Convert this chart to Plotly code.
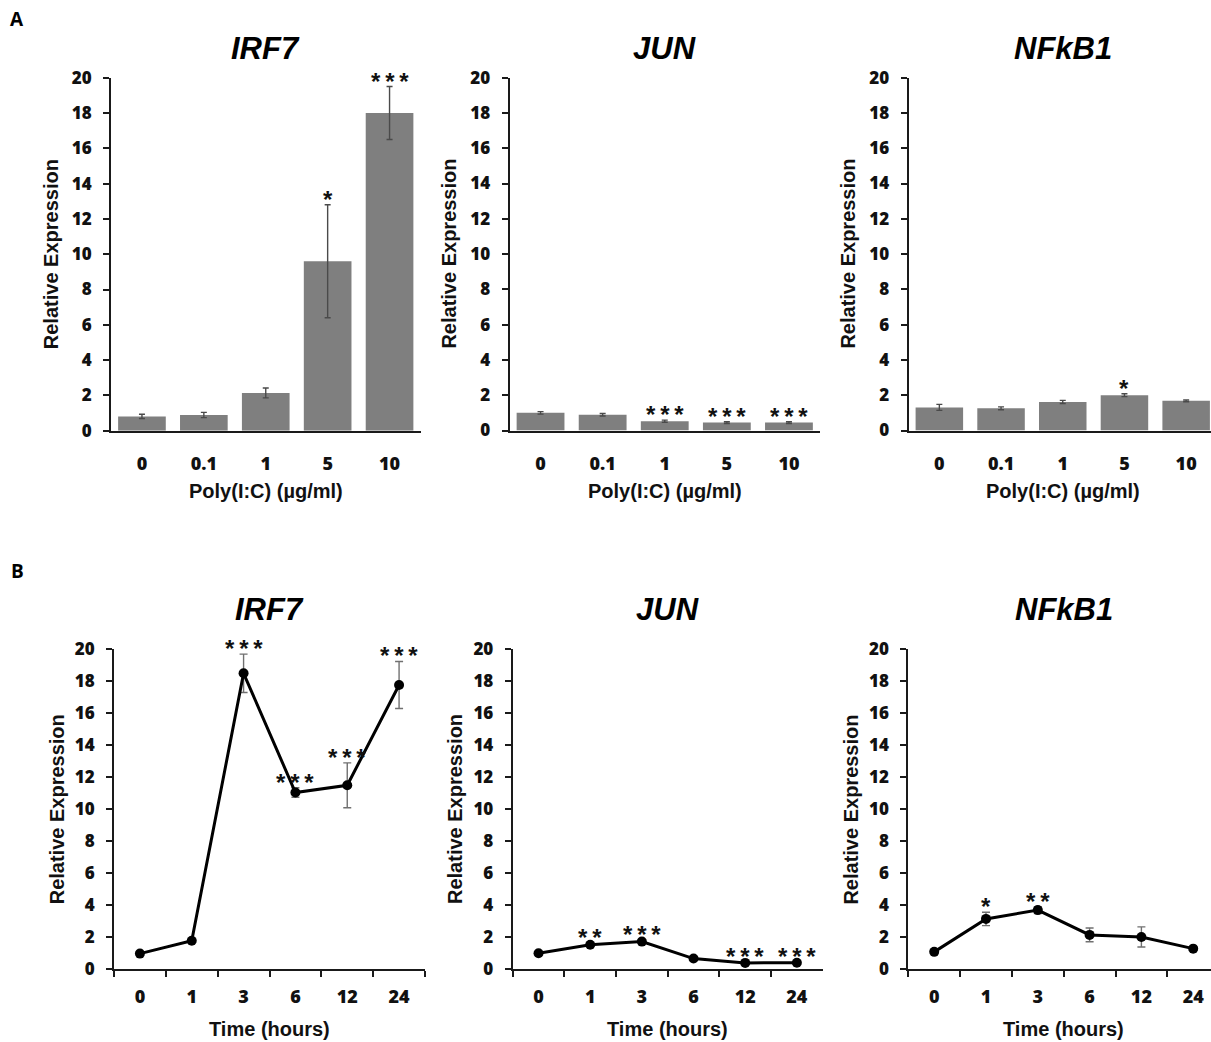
import plotly.graph_objects as go

# ---------------- data ----------------
dose_labels = ["0", "0.1", "1", "5", "10"]
time_labels = ["0", "1", "3", "6", "12", "24"]

irf7_dose = [0.81, 0.89, 2.14, 9.6, 18.0]
irf7_dose_err = [0.12, 0.15, 0.28, 3.2, 1.5]
irf7_dose_sig = ["", "", "", "*", "***"]

jun_dose = [1.0, 0.89, 0.53, 0.45, 0.45]
jun_dose_err = [0.07, 0.07, 0.06, 0.05, 0.05]
jun_dose_sig = ["", "", "***", "***", "***"]

nfkb1_dose = [1.31, 1.26, 1.62, 2.0, 1.68]
nfkb1_dose_err = [0.17, 0.08, 0.09, 0.08, 0.05]
nfkb1_dose_sig = ["", "", "", "*", ""]

irf7_time = [0.98, 1.78, 18.5, 11.05, 11.5, 17.77]
irf7_time_err = [0.05, 0.08, 1.2, 0.3, 1.4, 1.47]
irf7_time_sig = ["", "", "***", "***", "***", "***"]

jun_time = [1.0, 1.53, 1.73, 0.67, 0.4, 0.41]
jun_time_err = [0.08, 0.1, 0.12, 0.08, 0.05, 0.05]
jun_time_sig = ["", "**", "***", "", "***", "***"]

nfkb1_time = [1.09, 3.15, 3.7, 2.15, 2.02, 1.29]
nfkb1_time_err = [0.08, 0.42, 0.22, 0.43, 0.63, 0.08]
nfkb1_time_sig = ["", "*", "**", "", "", ""]

gene_titles = ["IRF7", "JUN", "NFkB1"]
y_title = "Relative Expression"
dose_title = "Poly(I:C) (µg/ml)"
time_title = "Time (hours)"
panel_labels = ["A", "B"]

# ---------------- layout helpers ----------------
W, H = 1211, 1042
def px(x):
    return x / W
def py(y):
    return 1 - y / H

TICK_FONT = dict(family="Open Sans, Lato, DejaVu Sans", size=17, color="#111111", weight=800)
XTICK_FONT = dict(family="Open Sans, Lato, DejaVu Sans", size=18, color="#111111", weight=800)
ARIAL = "Liberation Sans, Arial, Helvetica, sans-serif"

# (x0, x1, ytop, ybottom, x range)
panels_a = [
    (111, 420.5, 77.7, 430.7, [-0.5, 4.5]),
    (509.5, 820, 77.7, 430.5, [-0.5, 4.5]),
    (908.5, 1211, 77.7, 430.5, [-0.5, -0.5 + (1211 - 908.5) / 61.7]),
]
panels_b = [
    (114, 425, 649.3, 969.3, [-0.5, 5.5]),
    (512.7, 822.7, 649.3, 969.3, [-0.5, 5.5]),
    (908.3, 1211, 649.3, 969.3, [-0.5, -0.5 + (1211 - 908.3) / 51.8]),
]

fig = go.Figure()
annotations = []

dose_sets = [
    (irf7_dose, irf7_dose_err, irf7_dose_sig),
    (jun_dose, jun_dose_err, jun_dose_sig),
    (nfkb1_dose, nfkb1_dose_err, nfkb1_dose_sig),
]
time_sets = [
    (irf7_time, irf7_time_err, irf7_time_sig),
    (jun_time, jun_time_err, jun_time_sig),
    (nfkb1_time, nfkb1_time_err, nfkb1_time_sig),
]

def star_text(s):
    return "\u2009".join(list(s))

axis_idx = 0
layout_axes = {}
for row, (panels, sets, cats, xtitle) in enumerate([
    (panels_a, dose_sets, dose_labels, dose_title),
    (panels_b, time_sets, time_labels, time_title),
]):
    for col, ((x0, x1, yt, yb, xr), (vals, errs, sigs)) in enumerate(zip(panels, sets)):
        axis_idx += 1
        sfx = "" if axis_idx == 1 else str(axis_idx)
        xa, ya = "x" + sfx, "y" + sfx
        if row == 0:
            fig.add_trace(go.Bar(
                x=cats, y=vals, xaxis=xa, yaxis=ya,
                marker=dict(color="#7f7f7f", line=dict(width=0)),
                error_y=dict(type="data", array=errs, visible=True,
                             color="#4a4a4a", thickness=1.4, width=3),
                showlegend=False,
            ))
        else:
            fig.add_trace(go.Scatter(
                x=cats, y=vals, xaxis=xa, yaxis=ya, mode="lines+markers",
                line=dict(color="#000000", width=3),
                marker=dict(color="#000000", size=10),
                error_y=dict(type="data", array=errs, visible=True,
                             color="#707070", thickness=1.4, width=4),
                showlegend=False, cliponaxis=False,
            ))
        layout_axes["xaxis" + sfx] = dict(
            domain=[px(x0), px(x1)], anchor=ya, type="category",
            categoryorder="array", categoryarray=cats, range=xr,
            showline=True, linecolor="#1a1a1a", linewidth=2,
            showgrid=False, zeroline=False, automargin=False,
            ticks="" if row == 0 else "outside",
            tickson="boundaries" if row == 1 else "labels",
            ticklen=6, tickwidth=2, tickcolor="#1a1a1a",
            tickfont=XTICK_FONT,
            ticklabelstandoff=16 if row == 0 else 10,
        )
        layout_axes["yaxis" + sfx] = dict(
            domain=[py(yb), py(yt)], anchor=xa, range=[0, 20], dtick=2,
            showline=True, linecolor="#1a1a1a", linewidth=2,
            showgrid=False, zeroline=False, automargin=False,
            ticks="outside", ticklen=6, tickwidth=2, tickcolor="#1a1a1a",
            tickfont=TICK_FONT, ticklabelstandoff=8,
        )
        # significance stars (x given as category index)
        for i, (v, e, s) in enumerate(zip(vals, errs, sigs)):
            if s:
                annotations.append(dict(
                    x=i, y=v + e, xref=xa, yref=ya, text="<b>" + star_text(s) + "</b>",
                    showarrow=False, yanchor="bottom", xanchor="center",
                    yshift=-10, font=dict(family=ARIAL, size=24, color="#111111"),
                ))
        band = (x1 - x0) / (xr[1] - xr[0])
        center_x = x0 + band * len(cats) / 2
        title_y = 48.5 if row == 0 else 609
        annotations.append(dict(
            x=px(center_x), y=py(title_y), xref="paper", yref="paper",
            text="<b><i>" + gene_titles[col] + "</i></b>", showarrow=False,
            xanchor="center", yanchor="middle",
            font=dict(family=ARIAL, size=31, color="#000000"),
        ))
        xt_y = 491 if row == 0 else 1029
        annotations.append(dict(
            x=px(center_x), y=py(xt_y), xref="paper", yref="paper",
            text="<b>" + xtitle + "</b>", showarrow=False,
            xanchor="center", yanchor="middle",
            font=dict(family=ARIAL, size=20, color="#111111"),
        ))
        off = 60 if row == 0 else 57
        annotations.append(dict(
            x=px(x0 - off), y=py((yt + yb) / 2), xref="paper", yref="paper",
            text="<b>" + y_title + "</b>", showarrow=False, textangle=-90,
            xanchor="center", yanchor="middle",
            font=dict(family=ARIAL, size=20, color="#111111"),
        ))

for lab, yy in zip(panel_labels, [19, 571]):
    annotations.append(dict(
        x=px(17), y=py(yy), xref="paper", yref="paper", text="<b>" + lab + "</b>",
        showarrow=False, xanchor="center", yanchor="middle",
        font=dict(family="Open Sans, Lato, DejaVu Sans", size=19, color="#000000"),
    ))

fig.update_layout(
    width=W, height=H, margin=dict(l=0, r=0, t=0, b=0, pad=0, autoexpand=False),
    paper_bgcolor="white", plot_bgcolor="white",
    bargap=0.23, showlegend=False, annotations=annotations,
    **layout_axes,
)

fig.write_html("out.html", include_plotlyjs=True, config={"displayModeBar": False},
               post_script="document.body.style.margin='0';")
